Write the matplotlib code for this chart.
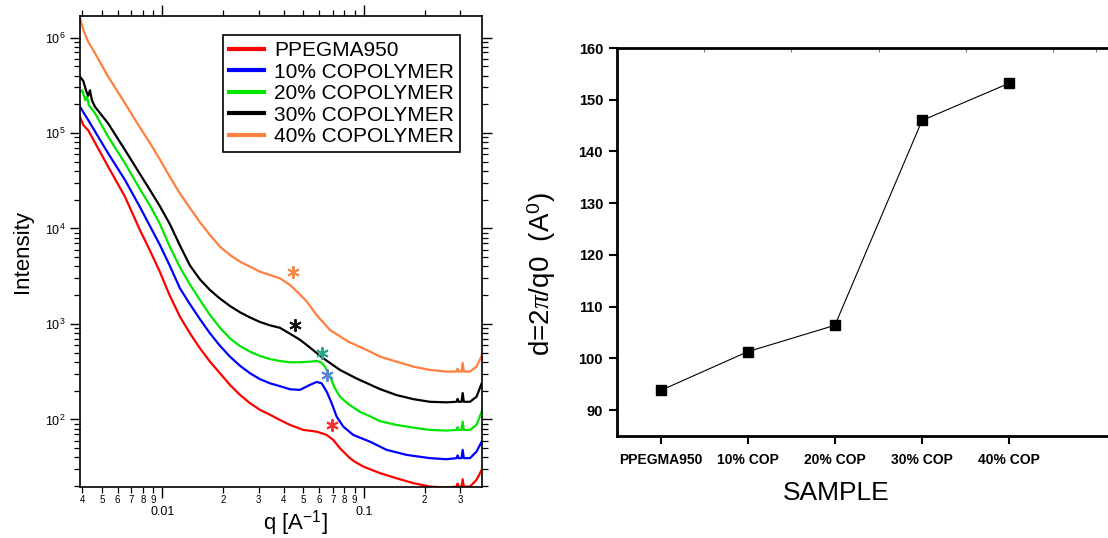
import numpy as np
import matplotlib
matplotlib.use("Agg")
import matplotlib.pyplot as plt
from matplotlib import ticker

plt.rcParams['font.family'] = ['Liberation Sans', 'DejaVu Sans']
plt.rcParams['mathtext.fontset'] = 'custom'
plt.rcParams['mathtext.rm'] = 'Liberation Sans'
plt.rcParams['mathtext.it'] = 'Liberation Serif:italic'
plt.rcParams['mathtext.bf'] = 'Liberation Sans:bold'

# ---------------- Left panel data (SAXS curves) ----------------
series_labels = ["PPEGMA950", "10% COPOLYMER", "20% COPOLYMER", "30% COPOLYMER", "40% COPOLYMER"]
series_colors = ["#ff0000", "#0000ff", "#00e600", "#000000", "#ff7f3f"]

q_red = [0.00390, 0.00405, 0.00428, 0.00538, 0.00652,
         0.007733, 0.008670, 0.009718, 0.010895, 0.012214, 0.013693, 0.015351, 0.017210, 0.019294,
         0.021629, 0.024248, 0.027185, 0.030476, 0.034166, 0.038303,
         0.04294, 0.04999, 0.05825, 0.06531, 0.07041, 0.07603, 0.08521, 0.0902, 0.0992,
         0.120, 0.145, 0.176, 0.2126, 0.257, 0.288,
         0.2917, 0.295, 0.305, 0.309, 0.313, 0.336, 0.362, 0.384]
I_red = [1.48e5, 1.21e5, 1.07e5, 4.44e4, 2.15e4,
         9640, 5884, 3504, 1965, 1192, 799, 557, 403, 305,
         230, 181, 148, 126, 112, 98.8,
         87.6, 77.7, 74.5, 68.8, 61.0, 49.9, 39.3, 36.0, 32.1,
         27.4, 24.2, 21.5, 19.8, 19.3, 19.8,
         21.3, 19.8, 19.8, 23.6, 19.8, 19.8, 23.3, 29.6]

q_blue = [0.00390, 0.00428, 0.00538, 0.00652,
          0.007733, 0.008670, 0.009718, 0.010895, 0.012214, 0.013693, 0.015351, 0.017210, 0.019294,
          0.021629, 0.024248, 0.027185, 0.030476, 0.034166, 0.038303,
          0.04294, 0.04814, 0.05395, 0.05825, 0.06166, 0.06531, 0.06914, 0.07321, 0.07896, 0.08850, 0.1071,
          0.1296, 0.163, 0.2126, 0.257, 0.288,
          0.2917, 0.295, 0.305, 0.309, 0.313, 0.336, 0.362, 0.384]
I_blue = [1.88e5, 1.37e5, 6.12e4, 3.22e4,
          16800, 10620, 6719, 4050, 2365, 1612, 1123, 799, 591,
          455, 365, 305, 264, 239, 223,
          207, 204, 230, 247, 239, 196, 148, 107, 84.1, 68.8, 58.5,
          48.0, 42.5, 39.3, 38.3, 39.3,
          42, 39.3, 39.3, 48.0, 39.3, 39.3, 46.0, 58.6]

q_green = [0.00390, 0.00400, 0.00414, 0.00422, 0.00432, 0.00463, 0.00538, 0.00652,
           0.007733, 0.008670, 0.009718, 0.010895, 0.012214, 0.013693, 0.015351, 0.017210, 0.019294,
           0.021629, 0.024248, 0.027185, 0.030476, 0.034166, 0.038303,
           0.04294, 0.04814, 0.05395, 0.05825, 0.06166, 0.06405, 0.06782, 0.07180, 0.07603, 0.08358,
           0.09553, 0.1071,
           0.120, 0.145, 0.176, 0.2126, 0.257, 0.288,
           0.2917, 0.295, 0.305, 0.309, 0.313, 0.336, 0.362, 0.384]
I_green = [2.70e5, 2.8e5, 2.2e5, 2.4e5, 1.95e5, 1.61e5, 9.14e4, 4.82e4,
           25920, 17410, 11170, 6403, 3924, 2592, 1784, 1243, 913,
           707, 587, 513, 462, 429, 409,
           397, 397, 403, 410, 393, 357, 281, 212, 173, 145,
           120, 108,
           96, 87.6, 82.0, 77.6, 76.4, 77.6,
           83, 77.6, 77.6, 94.8, 77.6, 77.6, 87.6, 121]

q_black = [0.00390, 0.00405, 0.00420, 0.00428, 0.00437, 0.00447, 0.00463, 0.00538, 0.00652,
           0.007733, 0.008670, 0.009718, 0.010895, 0.012214, 0.013693, 0.015351, 0.017210, 0.019294,
           0.021629, 0.024248, 0.027185, 0.030476, 0.034166, 0.038303,
           0.04294, 0.04814, 0.05196, 0.06281, 0.07603, 0.09200, 0.1071,
           0.120, 0.145, 0.176, 0.2126, 0.257, 0.288,
           0.2917, 0.295, 0.305, 0.309, 0.313, 0.336, 0.362, 0.384]
I_black = [3.89e5, 3.5e5, 2.7e5, 2.45e5, 2.8e5, 2.2e5, 1.88e5, 1.26e5, 6.64e4,
           37220, 25300, 17080, 11070, 6637, 4099, 2931, 2270, 1845,
           1543, 1326, 1170, 1049, 967, 911,
           790, 683, 603, 437, 330, 268, 232,
           208, 180, 163, 153, 151, 153,
           164, 153, 153, 189, 153, 153, 173, 239]

q_orange = [0.00390, 0.00405, 0.00428, 0.00463, 0.00538, 0.00652,
            0.007733, 0.008670, 0.009718, 0.010895, 0.012214, 0.013693, 0.015351, 0.017210, 0.019294,
            0.021629, 0.024248, 0.027185, 0.030476, 0.034166, 0.038303,
            0.04294, 0.04814, 0.0520, 0.0582, 0.0678, 0.0836, 0.103,
            0.120, 0.145, 0.176, 0.2126, 0.257, 0.288,
            0.2917, 0.295, 0.305, 0.309, 0.313, 0.336, 0.362, 0.384]
I_orange = [1.59e6, 1.20e6, 9.04e5, 6.84e5, 3.89e5, 2.05e5,
            114200, 78600, 52790, 34630, 23250, 16390, 11640, 8551, 6448,
            5279, 4492, 3981, 3528, 3259, 3009,
            2562, 2040, 1720, 1240, 865, 653, 535,
            455, 403, 357, 330, 317, 317,
            340, 317, 317, 391, 317, 317, 357, 463]

# peak markers (asterisks)
peak_q = [0.0691, 0.0653, 0.0617, 0.0455, 0.0443]
peak_I = [87.6, 292, 493, 976, 3530]
peak_colors = ["#ff2a2a", "#5a86d6", "#22a88a", "#111111", "#f08a4b"]

# ---------------- Right panel data ----------------
samples = ["PPEGMA950", "10% COP", "20% COP", "30% COP", "40% COP"]
d_spacing = [93.8, 101.3, 106.4, 146.0, 153.2]

fig = plt.figure(figsize=(11.08, 5.38), dpi=100)

# ---------- Left panel ----------
ax = fig.add_axes([80/1108, 51/538, 401.7/1108, 471/538])
curves = [(q_red, I_red), (q_blue, I_blue), (q_green, I_green), (q_black, I_black), (q_orange, I_orange)]
for (qq, ii), lab, col in zip(curves, series_labels, series_colors):
    ax.plot(qq, ii, color=col, lw=1.6, label=lab, solid_joinstyle='round')
for pq, pI, pc in zip(peak_q, peak_I, peak_colors):
    ax.plot([pq], [pI], linestyle='none', marker=(6, 2, 0), ms=9, mew=1.4, color=pc)

ax.set_xscale('log')
ax.set_yscale('log')
ax.set_xlim(0.0039, 0.384)
ax.set_ylim(19.6, 1.68e6)

ax.xaxis.set_major_locator(ticker.LogLocator(base=10, numticks=10))
ax.xaxis.set_minor_locator(ticker.LogLocator(base=10, subs=np.arange(2, 10), numticks=30))
ax.xaxis.set_major_formatter(ticker.FuncFormatter(lambda v, p: f"{v:g}"))
ax.xaxis.set_minor_formatter(ticker.FuncFormatter(
    lambda v, p: f"{int(round(v / 10 ** np.floor(np.log10(v) + 1e-9)))}"))
ax.yaxis.set_major_locator(ticker.LogLocator(base=10, numticks=10))
ax.yaxis.set_minor_locator(ticker.LogLocator(base=10, subs=np.arange(2, 10), numticks=30))
ax.yaxis.set_minor_formatter(ticker.NullFormatter())

ax.tick_params(axis='x', which='major', direction='out', length=8, width=1, labelsize=9, pad=5.5,
               top=True, bottom=True)
ax.tick_params(axis='x', which='minor', direction='out', length=4.3, width=0.9, labelsize=7, pad=1.5,
               top=True, bottom=True)
ax.tick_params(axis='y', which='major', direction='out', length=7.2, width=1, labelsize=9, pad=3,
               left=True, right=True)
ax.tick_params(axis='y', which='minor', direction='out', length=4.3, width=0.9,
               left=True, right=True)
for s in ax.spines.values():
    s.set_linewidth(1.2)

ax.set_ylabel("Intensity", fontsize=16)
ax.yaxis.set_label_coords(-0.144, 0.5)
ax.yaxis.label.set_va('center')
ax.set_xlabel(r"q [A$^{-1}$]", fontsize=16)
ax.xaxis.set_label_coords(0.535, -0.078)
ax.xaxis.label.set_va('center')

leg = ax.legend(loc='upper left', bbox_to_anchor=(0.356, 0.9597), borderaxespad=0,
                fontsize=15, frameon=True, fancybox=False, framealpha=1, edgecolor='black',
                borderpad=0.3, labelspacing=0.12, handlelength=1.65, handletextpad=0.5)
leg.get_frame().set_linewidth(1.2)
for h in leg.get_lines():
    h.set_linewidth(3)

# ---------- Right panel ----------
ax2 = fig.add_axes([617/1108, 102/538, 523/1108, 388/538])
xpos = np.arange(len(samples))
ax2.plot(xpos, d_spacing, color='black', lw=0.8, marker='s', ms=7, mec='black', mfc='black')
ax2.set_xlim(-0.5, 5.5)
ax2.set_ylim(85, 160)
ax2.set_xticks(xpos)
ax2.set_xticklabels(samples, fontweight='bold', fontsize=10)
ax2.set_yticks(np.arange(90, 161, 10))
for t in ax2.get_yticklabels():
    t.set_fontweight('bold')
    t.set_fontsize(10.5)
ax2.xaxis.set_minor_locator(ticker.FixedLocator(np.arange(-0.5, 5.6, 0.5)))
ax2.tick_params(axis='x', which='major', direction='out', length=6, width=1.5, pad=6, bottom=True, top=False)
ax2.tick_params(axis='x', which='minor', direction='in', length=3, width=0.8, color='#777777',
                bottom=False, top=True)
ax2.tick_params(axis='y', which='major', direction='out', length=6, width=1.5, pad=4, right=False)
ax2.spines['right'].set_visible(False)
for k in ['left', 'top', 'bottom']:
    ax2.spines[k].set_linewidth(2)

ax2.set_ylabel(r"d=2$\pi$/q0  (A$^{0}$)", fontsize=20)
ax2.yaxis.set_label_coords(-0.143, 0.4175)
ax2.yaxis.label.set_va('center')
ax2.set_xlabel("SAMPLE", fontsize=19)
ax2.xaxis.set_label_coords(0.419, -0.147)
ax2.xaxis.label.set_va('center')

fig.savefig("out.png", dpi=100)
